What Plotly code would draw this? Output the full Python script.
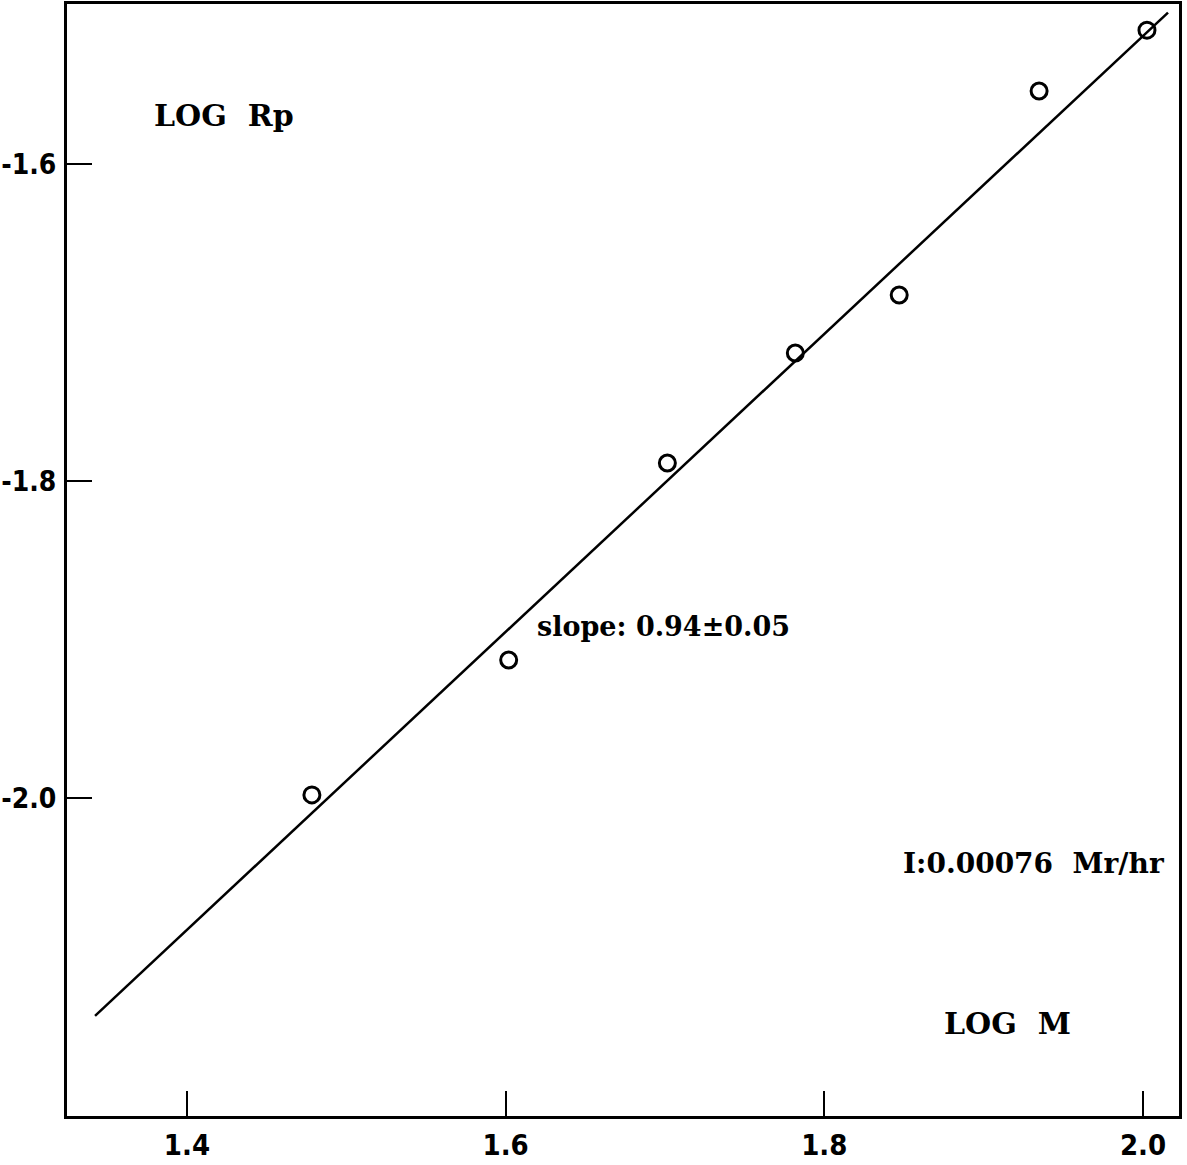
import plotly.graph_objects as go

# Measured points: log of molecular weight vs. log of rate
log_m = [1.4784, 1.6019, 1.7015, 1.7818, 1.847, 1.9348, 2.0025]
log_rp = [-1.998, -1.9129, -1.7886, -1.7192, -1.6826, -1.5539, -1.5155]

# Fitted straight line (slope 0.94 through the centre of the data)
fit_slope = 0.94
fit_pivot_x = 1.679
fit_pivot_y = -1.8209
fit_x_ends = [1.3423, 2.0157]
fit_y_ends = [fit_pivot_y + fit_slope * (x - fit_pivot_x) for x in fit_x_ends]

x_ticks = [1.4, 1.6, 1.8, 2.0]
x_tick_text = ["1.4", "1.6", "1.8", "2.0"]
y_ticks = [-2.0, -1.8, -1.6]
y_tick_text = ["-2.0", "-1.8", "-1.6"]

tick_font_family = "Liberation Sans Narrow, DejaVu Sans Condensed, sans-serif"
x_tick_font = dict(family=tick_font_family, size=29, color="black", weight="bold")
y_tick_font = dict(family=tick_font_family, size=28, color="black", weight="bold")
label_font_family = "DejaVu Serif, serif"

fig = go.Figure()

fig.add_trace(go.Scatter(
    x=fit_x_ends, y=fit_y_ends, mode="lines",
    line=dict(color="black", width=2.5), showlegend=False, hoverinfo="skip",
))

fig.add_trace(go.Scatter(
    x=log_m, y=log_rp, mode="markers",
    marker=dict(symbol="circle-open", size=16, color="black", line=dict(width=3)),
    showlegend=False,
))

annotations = [
    dict(text="LOG  Rp", x=0.076, y=0.900, size=30),
    dict(text="slope: 0.94\u00b10.05", x=0.4205, y=0.4400, size=27),
    dict(text="I:0.00076  Mr/hr", x=0.750, y=0.2275, size=28),
    dict(text="LOG  M", x=0.787, y=0.0836, size=30),
]
for a in annotations:
    fig.add_annotation(
        text=a["text"], x=a["x"], y=a["y"], xref="paper", yref="paper",
        xanchor="left", yanchor="middle", showarrow=False,
        font=dict(family=label_font_family, size=a["size"], color="black", weight="bold"),
    )

fig.update_xaxes(
    range=[1.3247, 2.0226], tickvals=x_ticks, ticktext=x_tick_text,
    ticks="inside", ticklen=25, tickwidth=2, tickcolor="black",
    showline=True, linewidth=3, linecolor="black", mirror=True,
    showgrid=False, zeroline=False, tickfont=x_tick_font, ticklabelstandoff=1,
    automargin=False,
)
fig.update_yaxes(
    range=[-2.2006, -1.499], tickvals=y_ticks, ticktext=y_tick_text,
    ticks="inside", ticklen=25, tickwidth=2, tickcolor="black",
    showline=True, linewidth=3, linecolor="black", mirror=True,
    showgrid=False, zeroline=False, tickfont=y_tick_font, ticklabelstandoff=2,
    automargin=False,
)

fig.update_layout(
    width=1187, height=1165,
    margin=dict(l=67, r=8, t=4, b=49),
    paper_bgcolor="white", plot_bgcolor="white",
)

fig.write_html("out.html")
